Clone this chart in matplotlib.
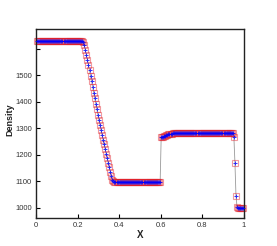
import numpy as np
import matplotlib
matplotlib.use('Agg')
import matplotlib.pyplot as plt

plt.rcParams['font.family'] = ['Liberation Sans', 'DejaVu Sans']

# cell centres, 200 cells on [0, 1]
x = np.arange(200) * 0.005 + 0.0025

# density, one value per cell
density = [
    1628, 1628, 1628, 1628, 1628, 1628, 1628, 1628, 1628, 1628,
    1628, 1628, 1628, 1628, 1628, 1628, 1628, 1628, 1628, 1628,
    1628, 1628, 1628, 1628, 1628, 1628, 1628, 1628, 1628, 1628,
    1628, 1628, 1628, 1628, 1628, 1628, 1628, 1628, 1628, 1628,
    1628, 1628, 1628, 1628, 1627, 1625, 1612, 1594, 1576, 1557,
    1538, 1518, 1497, 1476, 1455, 1434, 1413, 1392, 1371, 1351,
    1331, 1312, 1293, 1275, 1257, 1239, 1221, 1204, 1187, 1170,
    1153, 1136, 1119, 1106, 1100, 1098, 1098, 1098, 1098, 1098,
    1098, 1098, 1098, 1098, 1098, 1098, 1097, 1097, 1097, 1097,
    1097, 1097, 1097, 1097, 1097, 1097, 1097, 1097, 1097, 1097,
    1096, 1096, 1096, 1096, 1096, 1096, 1096, 1096, 1096, 1096,
    1096, 1096, 1095, 1095, 1095, 1095, 1095, 1095, 1095, 1095,
    1266, 1267, 1268, 1270, 1271, 1273, 1274, 1276, 1277, 1278,
    1279, 1280, 1280, 1280, 1280, 1280, 1280, 1280, 1280, 1280,
    1280, 1280, 1280, 1280, 1280, 1280, 1280, 1280, 1280, 1280,
    1280, 1280, 1280, 1280, 1280, 1280, 1280, 1281, 1281, 1281,
    1281, 1281, 1281, 1281, 1281, 1281, 1281, 1281, 1281, 1281,
    1281, 1281, 1281, 1281, 1281, 1281, 1281, 1281, 1281, 1281,
    1281, 1281, 1281, 1281, 1281, 1281, 1281, 1281, 1281, 1281,
    1265, 1170, 1045, 1004, 1000, 1000, 1000, 1000, 1000, 1000,
]

xticks = [0, 0.2, 0.4, 0.6, 0.8, 1.0]
xticklabels = ['0', '0.2', '0.4', '0.6', '0.8', '1']
yticks = [1000, 1100, 1200, 1300, 1400, 1500, 1600]
yticklabels = ['1000', '1100', '1200', '1300', '1400', '1500', '']

fig = plt.figure(figsize=(2.77, 2.46), dpi=100)
ax = fig.add_axes([0.130, 0.114, 0.750, 0.767])

# thin line through the solution
ax.plot(x, density, color='#999999', lw=0.6, zorder=1)
# squares
ax.plot(x, density, ls='none', marker='s', ms=3.8, mfc='none',
        mec='#e0202a', mew=0.8, alpha=0.45, clip_on=False, zorder=2)
# pluses
ax.plot(x, density, ls='none', marker='+', ms=3.0, color='blue',
        mew=0.7, alpha=0.8, clip_on=False, zorder=3)

ax.set_xlim(0, 1)
ax.set_ylim(961, 1673)
ax.set_xticks(xticks)
ax.set_xticklabels(xticklabels)
ax.set_yticks(yticks)
ax.set_yticklabels(yticklabels)
ax.tick_params(direction='in', length=3, width=0.8, labelsize=5.5,
               labelcolor='#333333', pad=3)

for s in ax.spines.values():
    s.set_linewidth(1.0)
    s.set_color('#222222')

ax.set_xlabel('X', fontsize=7, fontweight='bold', color='#222222')
ax.set_ylabel('Density', fontsize=6.5, fontweight='bold', color='#222222')
ax.xaxis.set_label_coords(0.5, -0.065)
# the original label sits on top of the tick labels; nudge it just clear
ax.yaxis.set_label_coords(-0.105, 0.52)

fig.savefig('out.png', dpi=100)
